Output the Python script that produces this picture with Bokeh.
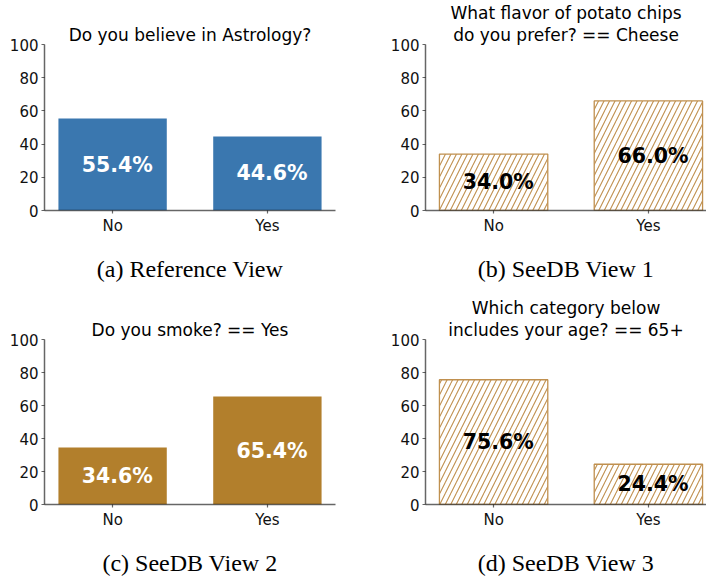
from bokeh.plotting import figure
from bokeh.layouts import gridplot
from bokeh.models import Range1d, FixedTicker, Title
from bokeh.core.properties import value
from bokeh.embed import file_html
from bokeh.resources import INLINE

# ---- data ----
categories = ["No", "Yes"]
titles = [
    ["Do you believe in Astrology?"],
    ["What flavor of potato chips", "do you prefer? == Cheese"],
    ["Do you smoke? == Yes"],
    ["Which category below", "includes your age? == 65+"],
]
captions = ["(a) Reference View", "(b) SeeDB View 1", "(c) SeeDB View 2", "(d) SeeDB View 3"]
values_a = [55.4, 44.6]
values_b = [34.0, 66.0]
values_c = [34.6, 65.4]
values_d = [75.6, 24.4]
y_ticks = [0, 20, 40, 60, 80, 100]

BLUE = "#3A77AF"
GOLD = "#B27F2C"
HATCH = "#C0904F"

X0, X1 = -0.44, 1.44
Y0, Y1 = 0, 100
FULL_FRAME_W = 291
LEFT = 44
TOP = 44


def panel(title_lines, caption, vals, kind, width, right_border, height, frame_h):
    frame_w = width - LEFT - right_border
    x_end = X0 + (X1 - X0) * frame_w / FULL_FRAME_W
    p = figure(width=width, height=height, output_backend="svg", toolbar_location=None,
               x_range=Range1d(X0, x_end), y_range=Range1d(Y0, Y1),
               min_border_left=LEFT, min_border_right=right_border,
               min_border_top=TOP, min_border_bottom=height - TOP - frame_h,
               background_fill_color="white", border_fill_color="white")
    p.title.text = ""
    # closest line to the frame first, outer lines after
    for line in reversed(title_lines):
        p.add_layout(Title(text=line, align="center", text_font="DejaVu Sans",
                           text_font_size="17px", text_font_style="normal",
                           text_color="black", standoff=0), "above")

    xs = list(range(len(categories)))
    if kind in ("blue", "gold"):
        color = BLUE if kind == "blue" else GOLD
        p.vbar(x=xs, top=vals, bottom=0, width=0.7, fill_color=color, line_color=None)
        tcolor = "white"
    else:
        p.vbar(x=xs, top=vals, bottom=0, width=0.7, fill_color="white",
               line_color=HATCH, line_width=1.3, hatch_pattern="/",
               hatch_color=HATCH, hatch_scale=11, hatch_weight=1.1)
        tcolor = "black"
    p.text(x=[x - 0.2 for x in xs], y=[v / 2 for v in vals],
           text=[f"{v:.1f}%" for v in vals], text_align="left", text_baseline="middle",
           text_font=value("DejaVu Sans"), text_font_style="bold",
           text_font_size="20.5px", text_color=tcolor)

    p.xaxis.ticker = FixedTicker(ticks=xs)
    p.xaxis.major_label_overrides = {i: c for i, c in enumerate(categories)}
    p.yaxis.ticker = FixedTicker(ticks=y_ticks)
    for ax in [p.xaxis[0], p.yaxis[0]]:
        ax.axis_line_color = "black"
        ax.axis_line_alpha = 0.6
        ax.axis_line_width = 1.5
        ax.major_tick_line_color = "black"
        ax.major_tick_line_alpha = 0.6
        ax.major_tick_line_width = 1.2
        ax.major_tick_out = 3
        ax.major_tick_in = 0
        ax.minor_tick_out = 0
        ax.minor_tick_in = 0
        ax.major_label_text_font = "DejaVu Sans"
        ax.major_label_text_font_size = "15px"
        ax.major_label_text_color = "#111111"
        ax.major_label_standoff = 3
    xa = p.xaxis[0]
    xa.axis_label = caption
    xa.axis_label_text_font = "Liberation Serif"
    xa.axis_label_text_font_size = "24px"
    xa.axis_label_text_font_style = "normal"
    xa.axis_label_text_color = "black"
    xa.axis_label_standoff = 18
    p.xgrid.visible = False
    p.ygrid.visible = False
    p.outline_line_color = None
    return p


pa = panel(titles[0], captions[0], values_a, "blue", 381, 46, 295, 166)
pb = panel(titles[1], captions[1], values_b, "hatch", 325, 0, 295, 166)
pc = panel(titles[2], captions[2], values_c, "gold", 381, 46, 284, 165)
pd = panel(titles[3], captions[3], values_d, "hatch", 325, 0, 284, 165)

grid = gridplot([[pa, pb], [pc, pd]], toolbar_location=None)

open("out.html", "w").write(file_html(grid, INLINE))
